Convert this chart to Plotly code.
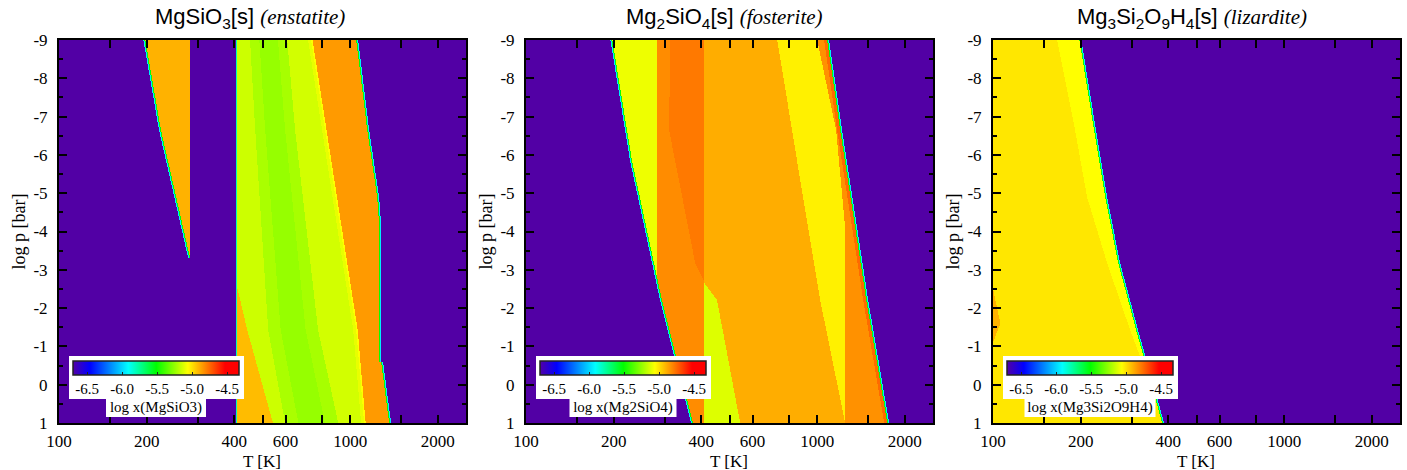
import numpy as np
import plotly.graph_objects as go

W, H = 1407, 470

# axis extents
T_MIN, T_MAX = 100.0, 2500.0
P_TOP, P_BOT = -9.0, 1.0
Z_MIN, Z_MAX = -6.7, -4.33

# raster resolution along log T and log p
NX, NY = 407, 383
DLT = (np.log10(T_MAX) - np.log10(T_MIN)) / NX
DLP = (P_BOT - P_TOP) / NY
lt = np.log10(T_MIN) + (np.arange(NX) + 0.5) * DLT
lp = P_TOP + (np.arange(NY) + 0.5) * DLP
LT, LP = np.meshgrid(lt, lp)

# temperatures of the vertical phase-change jumps [K]
T_A = 282.0
T_B = 409.0
T_C = 1250.0

# ---------------- MgSiO3 (enstatite) ----------------
EN_LOW_P = [-9.0, -6.65, -3.31]
EN_LOW_T = [198.0, 224.0, 282.0]
EN_HIGH_P = [-9.0, -6.65, -4.90, -4.17, -0.59, -0.58, 1.0]
EN_HIGH_T = [1049.0, 1144.0, 1238.0, 1258.0, 1258.0, 1278.0, 1361.0]
EN_STRIPE_P = [-9.0, -6.65, -1.43, 1.0]
EN_S1_T = [453.0, 472.0, 523.0, 598.0]
EN_S2_T = [608.0, 647.0, 776.0, 910.0]
EN_S3_T = [734.0, 820.0, 1049.0, 1117.0]
EN_FOOT_P = [-2.55, -1.43, 1.0]
EN_FOOT_T = [409.0, 443.0, 543.0]
# shading across the green core (fraction of the way from S1 to S2, value)
EN_CORE_STEPS = [(0.0, -5.21), (0.25, -5.245), (0.75, -5.215), (1.0, -5.17)]
EN_VALUES = {"cold": -4.90, "lime": -5.15, "yg": -5.14,
             "yellow": -5.06, "orange": -4.85, "foot": -4.92}

# ---------------- Mg2SiO4 (fosterite) ----------------
FO_LOW_P = [-9.0, -5.87, -2.21, 1.0]
FO_LOW_T = [198.0, 231.0, 293.0, 375.0]
FO_HIGH_P = [-9.0, -6.65, -2.21, 1.0]
FO_HIGH_T = [1082.0, 1199.0, 1474.0, 1740.0]
FO_DARK_P = [-9.0, -6.65, -4.90, -3.18, -2.66]
FO_DARK_T = [313.0, 310.0, 344.0, 381.0, 412.0]
FO_LIME_P = [-2.66, -2.21, 1.0]
FO_LIME_T = [409.0, 453.0, 544.0]
FO_YL_P = [-9.0, -6.65, -5.87, -2.21, 1.0]
FO_YL_T = [729.0, 820.0, 852.0, 1024.0, 1248.0]
FO_YR_P = [-9.0, -6.65, -4.04]
FO_YR_T = [1000.0, 1162.0, 1250.0]
FO_VALUES = {"base": -4.89, "cold": -5.09, "mid": -4.82, "dark": -4.78,
             "lime": -5.12, "yellow": -5.03, "hot": -4.83, "rim": -4.75}

# ---------------- Mg3Si2O9H4 (lizardite) ----------------
LZ_P = [-9.0, -6.65, -4.90, -3.18, -1.43, 1.0]
LZ_HIGH_T = [198.0, 222.3, 242.7, 269.0, 310.0, 381.0]
LZ_PALE_T = [166.0, 191.3, 210.4, 246.5, 295.7, 390.0]
LZ_SPOT_P = [-2.5, -1.6, -1.1]
LZ_SPOT_T = [100.0, 106.0, 100.0]
LZ_VALUES = {"base": -5.01, "pale": -5.06, "spot": -4.90}

EDGE_INNER, EDGE_OUTER = -5.50, -5.95


def curve(p_nodes, t_nodes):
    return np.interp(LP, p_nodes, np.log10(t_nodes))


def edge_right(z, c):
    z[(LT > c) & (LT <= c + DLT)] = EDGE_INNER
    z[(LT > c + DLT) & (LT <= c + 2 * DLT)] = EDGE_OUTER


def edge_left(z, c, m=True):
    z[(LT < c) & (LT >= c - DLT) & m] = EDGE_INNER
    z[(LT < c - DLT) & (LT >= c - 2 * DLT) & m] = EDGE_OUTER


def enstatite():
    v = EN_VALUES
    z = np.full(LT.shape, Z_MIN)
    lo = curve(EN_LOW_P, EN_LOW_T)
    hi = curve(EN_HIGH_P, EN_HIGH_T)
    z[(LT >= lo) & (LT < np.log10(T_A))] = v["cold"]
    edge_left(z, lo, LP <= EN_LOW_P[-1])
    band = (LT >= np.log10(T_B)) & (LT <= hi)
    z[band] = v["lime"]
    s1 = curve(EN_STRIPE_P, EN_S1_T)
    s2 = curve(EN_STRIPE_P, EN_S2_T)
    for frac, val in EN_CORE_STEPS:
        z[band & (LT >= s1 + frac * (s2 - s1))] = val
    z[band & (LT >= s2)] = v["yg"]
    s3 = curve(EN_STRIPE_P, EN_S3_T)
    z[band & (LT >= s3 - 3 * DLT)] = -5.10
    z[band & (LT >= s3)] = v["yellow"]
    z[band & (LT >= s3 + 1.5 * DLT)] = v["orange"]
    z[band & (LT < curve(EN_FOOT_P, EN_FOOT_T))] = v["foot"]
    edge_right(z, hi)
    z[(LT < np.log10(T_B)) & (LT >= np.log10(T_B) - DLT)] = -5.8
    return z


def fosterite():
    v = FO_VALUES
    z = np.full(LT.shape, Z_MIN)
    lo = curve(FO_LOW_P, FO_LOW_T)
    hi = curve(FO_HIGH_P, FO_HIGH_T)
    inside = (LT >= lo) & (LT <= hi)
    z[inside] = v["base"]
    z[inside & (LT < np.log10(T_A))] = v["cold"]
    z[inside & (LT >= np.log10(T_A)) & (LT < np.log10(T_B))] = v["mid"]
    z[inside & (LT >= curve(FO_DARK_P, FO_DARK_T)) & (LT < np.log10(T_B))] = v["dark"]
    z[inside & (LT >= np.log10(T_B)) & (LT < curve(FO_LIME_P, FO_LIME_T))] = v["lime"]
    z[inside & (LT >= curve(FO_YL_P, FO_YL_T))] = v["yellow"]
    z[inside & (LT >= curve(FO_YR_P, FO_YR_T))] = v["hot"]
    z[inside & (LT >= hi - 3 * DLT)] = v["rim"]
    edge_left(z, lo)
    edge_right(z, hi)
    return z


def lizardite():
    v = LZ_VALUES
    z = np.full(LT.shape, Z_MIN)
    hi = curve(LZ_P, LZ_HIGH_T)
    inside = LT <= hi
    z[inside] = v["base"]
    z[inside & (LT >= curve(LZ_P, LZ_PALE_T))] = v["pale"]
    spot = (LT < curve(LZ_SPOT_P, LZ_SPOT_T)) & (LP > LZ_SPOT_P[0]) & (LP < LZ_SPOT_P[-1])
    z[spot] = v["spot"]
    edge_right(z, hi)
    return z


FIELDS = [enstatite(), fosterite(), lizardite()]
TITLES = ["MgSiO<sub>3</sub>[s]", "Mg<sub>2</sub>SiO<sub>4</sub>[s]",
          "Mg<sub>3</sub>Si<sub>2</sub>O<sub>9</sub>H<sub>4</sub>[s]"]
NAMES = ["enstatite", "fosterite", "lizardite"]
CB_LABELS = ["log x(MgSiO3)", "log x(Mg2SiO4)", "log x(Mg3Si2O9H4)"]
CB_TICKS = [-6.5, -6.0, -5.5, -5.0, -4.5]
X_TICKS = [100, 150, 200, 300, 400, 500, 600, 800, 1000, 1500, 2000]
X_LABELED = [100, 200, 400, 600, 1000, 2000]
Y_TICKS = list(range(-9, 2))

COLORSCALE = [
    [0.0, "rgb(82,0,165)"],
    [0.101, "rgb(0,0,255)"],
    [0.333, "rgb(0,255,255)"],
    [0.502, "rgb(0,255,0)"],
    [0.692, "rgb(255,255,0)"],
    [0.916, "rgb(255,0,0)"],
    [1.0, "rgb(255,0,0)"],
]

SERIF = "Liberation Serif"
SANS = "Liberation Sans"

# panel frames in pixels
PANEL_L = [59, 526, 993]
PANEL_W = 407
PANEL_T, PANEL_B = 40, 423
TITLE_CX = [250, 724, 1192]
LABEL_BOX_W = [100, 107, 131]


def fx(px):
    return px / W


def fy(py):
    return 1 - py / H


fig = go.Figure()
layout = dict(width=W, height=H, margin=dict(l=0, r=0, t=0, b=0, autoexpand=False),
              paper_bgcolor="white", plot_bgcolor="white", showlegend=False)
shapes, annotations = [], []

for i, z in enumerate(FIELDS):
    sfx = "" if i == 0 else str(i + 1)
    left = PANEL_L[i]
    fig.add_trace(go.Heatmap(
        z=z, x0=lt[0], dx=DLT, y0=lp[0], dy=DLP,
        xaxis="x" + sfx, yaxis="y" + sfx,
        colorscale=COLORSCALE, zmin=Z_MIN, zmax=Z_MAX, zsmooth=False,
        hoverinfo="skip",
        colorbar=dict(
            orientation="h", xref="paper", yref="paper",
            x=fx(left + 14), xanchor="left",
            y=fy(361), yanchor="top",
            len=166, lenmode="pixels", thickness=14, thicknessmode="pixels",
            xpad=0, ypad=0, outlinewidth=1.5, outlinecolor="#222",
            bgcolor="rgba(0,0,0,0)", borderwidth=0,
            tickvals=CB_TICKS, ticktext=["%.1f" % t for t in CB_TICKS],
            ticks="inside", ticklen=3, tickcolor="#222", tickwidth=1,
            tickfont=dict(family=SERIF, size=15, color="black"),
            title=dict(text=CB_LABELS[i], side="bottom",
                       font=dict(family=SERIF, size=15, color="black")),
        ),
    ))
    ax = dict(
        domain=[fx(left), fx(left + PANEL_W)],
        range=[np.log10(T_MIN), np.log10(T_MAX)],
        tickmode="array", tickvals=np.log10(X_TICKS).tolist(),
        ticktext=[str(t) if t in X_LABELED else "" for t in X_TICKS],
        ticks="inside", ticklen=8, tickwidth=1.5, tickcolor="black",
        showline=True, linecolor="black", linewidth=2, mirror="ticks",
        showgrid=False, zeroline=False, ticklabelstandoff=2, automargin=False,
        tickfont=dict(family=SERIF, size=17, color="black"),
        anchor="y" + sfx,
    )
    ay = dict(
        domain=[fy(PANEL_B), fy(PANEL_T)],
        range=[P_BOT, P_TOP],
        tickmode="array", tickvals=Y_TICKS, ticktext=[str(t) for t in Y_TICKS],
        ticks="inside", ticklen=8, tickwidth=1.5, tickcolor="black",
        minor=dict(dtick=0.5, ticklen=4, tickwidth=1.5, tickcolor="black", ticks="inside"),
        showline=True, linecolor="black", linewidth=2, mirror="ticks",
        showgrid=False, zeroline=False, ticklabelstandoff=6, automargin=False,
        tickfont=dict(family=SERIF, size=17, color="black"),
        anchor="x" + sfx,
    )
    layout["xaxis" + sfx] = ax
    layout["yaxis" + sfx] = ay

    # white backing for the inset colour bar and its label
    shapes.append(dict(type="rect", xref="paper", yref="paper", layer="above",
                       x0=fx(left + 10), x1=fx(left + 185), y0=fy(399), y1=fy(356),
                       fillcolor="white", line=dict(width=0)))
    cx = left + 97
    hw = LABEL_BOX_W[i] / 2
    shapes.append(dict(type="rect", xref="paper", yref="paper", layer="above",
                       x0=fx(cx - hw), x1=fx(cx + hw), y0=fy(417), y1=fy(398),
                       fillcolor="white", line=dict(width=0)))

    annotations.append(dict(
        x=fx(TITLE_CX[i]), y=fy(18), xref="paper", yref="paper", showarrow=False,
        text=TITLES[i] + ' <span style="font-family:Liberation Serif;font-size:21px"><i>(' + NAMES[i] + ')</i></span>',
        font=dict(family=SANS, size=22, color="black"), xanchor="center", yanchor="middle"))
    annotations.append(dict(
        x=fx(left + PANEL_W / 2 - 1), y=fy(461), xref="paper", yref="paper", showarrow=False,
        text="T [K]", font=dict(family=SERIF, size=17, color="black"),
        xanchor="center", yanchor="middle"))
    annotations.append(dict(
        x=fx(left - 41), y=fy((PANEL_T + PANEL_B) / 2), xref="paper", yref="paper",
        showarrow=False, text="log p [bar]", textangle=-90,
        font=dict(family=SERIF, size=18, color="black"),
        xanchor="center", yanchor="middle"))

layout["shapes"] = shapes
layout["annotations"] = annotations
fig.update_layout(**layout)
fig.write_html("out.html")
